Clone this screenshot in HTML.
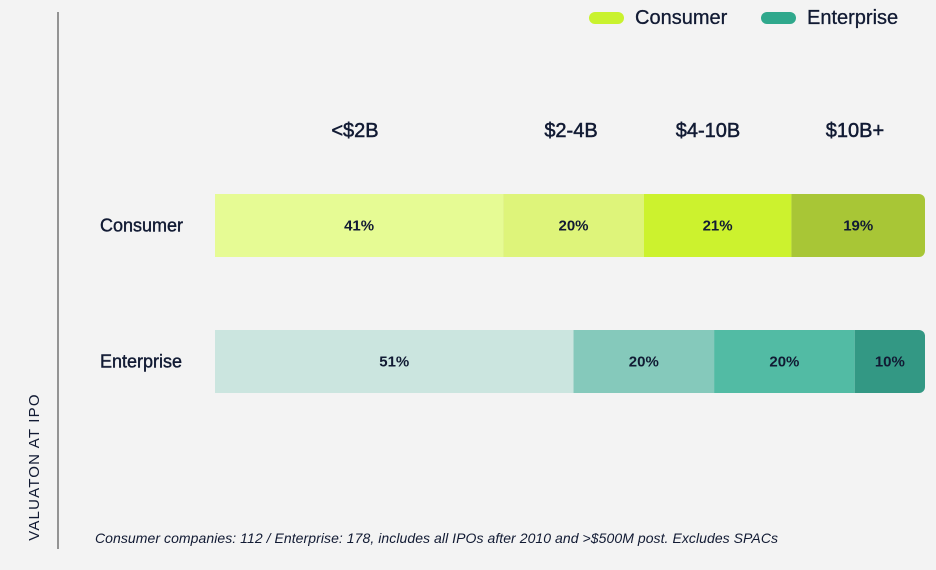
<!DOCTYPE html>
<html><head><meta charset="utf-8"><style>
body{margin:0;background:#f3f3f3;width:936px;height:565px;overflow:hidden;font-family:"Liberation Sans",sans-serif;color:#111a33}
</style></head><body>
<svg width="936" height="565">
<line x1="58" y1="12" x2="58" y2="549" stroke="#333" stroke-width="1"/>
<text transform="translate(39,467) rotate(-90)" text-anchor="middle" font-size="15" letter-spacing="1.2" fill="#111a33">VALUATON AT IPO</text>
<g>
<rect x="589" y="12" width="35" height="12" rx="6" fill="#c9f22e"/>
<text x="635" y="24" font-size="20" fill="#111a33" stroke="#111a33" stroke-width="0.3">Consumer</text>
<rect x="761" y="12" width="35" height="12" rx="6" fill="#2fa88c"/>
<text x="807" y="24" font-size="20" fill="#111a33" stroke="#111a33" stroke-width="0.3">Enterprise</text>
</g>
<g id="plot"></g>
<text x="95" y="543" font-size="14" font-style="italic" fill="#111a33" textLength="683">Consumer companies: 112 / Enterprise: 178, includes all IPOs after 2010 and &gt;$500M post. Excludes SPACs</text>
</svg>
<script>
const categories=["Consumer","Enterprise"];
const buckets=["<$2B","$2-4B","$4-10B","$10B+"];
const consumerValues=[41,20,21,19];
const enterpriseValues=[51,20,20,10];
const consumerColors=["#e6fb94","#def47a","#ccf22e","#a8c636"];
const enterpriseColors=["#cbe5df","#85c9bb","#52bba4","#339884"];
const headerX=[355,571,708,855];
const NS="http://www.w3.org/2000/svg";
const g=document.getElementById("plot");
const x0=215,x1=925,rowY=[194,330],barH=63;
function mk(t,a){const e=document.createElementNS(NS,t);for(const k in a)e.setAttribute(k,a[k]);return e;}
buckets.forEach((b,i)=>{const t=mk("text",{x:headerX[i],y:137,"text-anchor":"middle","font-size":"20",fill:"#111a33",stroke:"#111a33","stroke-width":"0.5"});t.textContent=b;


g.appendChild(t);});
[consumerValues,enterpriseValues].forEach((vals,r)=>{
 const cols=r?enterpriseColors:consumerColors;
 const tot=vals.reduce((a,b)=>a+b,0);
 const sx=v=>v/tot*(x1-x0);
 const lab=mk("text",{x:100,y:rowY[r]+barH/2+6,"font-size":"18",fill:"#111a33",stroke:"#111a33","stroke-width":"0.4"});lab.textContent=categories[r];
 
 
 g.appendChild(lab);
 const clip=mk("clipPath",{id:"c"+r});clip.appendChild(mk("rect",{x:x0-10,y:rowY[r],width:x1-x0+10,height:barH,rx:6}));g.appendChild(clip);
 const gg=mk("g",{"clip-path":"url(#c"+r+")"});g.appendChild(gg);
 let acc=0;
 vals.forEach((v,i)=>{
  const x=x0+sx(acc),w=sx(v);
  const rc=mk("rect",{x:i==0?x-10:x,y:rowY[r],width:i==0?w+10:w,height:barH,fill:cols[i]});
  
  
  gg.appendChild(rc);
  const t=mk("text",{x:x+w/2,y:rowY[r]+barH/2+5,"text-anchor":"middle","font-size":"15","font-weight":"bold",fill:"#111a33"});t.textContent=v+"%";
  
  
  g.appendChild(t);
  acc+=v;
 });
 const cover=mk("rect",{x:x0-12,y:rowY[r]-1,width:12,height:barH+2,fill:"#f3f3f3"});g.appendChild(cover);
});
</script>
</body></html>
